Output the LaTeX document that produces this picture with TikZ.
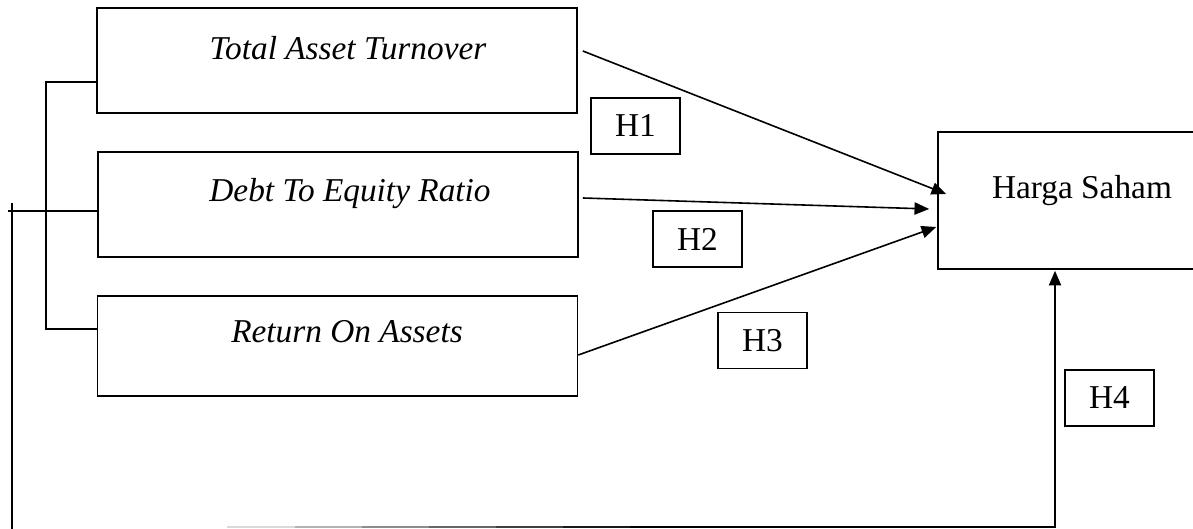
\documentclass[tikz,border=0pt]{standalone}
\usepackage{fontspec}
\setmainfont{Liberation Serif}
\usetikzlibrary{arrows.meta,calc}
\begin{document}
\begin{tikzpicture}[x=0.375pt, y=-0.375pt, line width=0.6pt,
	>={Triangle[length=5.5pt,width=4.6pt]},
	varbox/.style={draw, rectangle, minimum width=180pt, minimum height=39.4pt, inner sep=0pt},
	hipbox/.style={draw, rectangle, minimum width=33.5pt, minimum height=21pt, inner sep=0pt,
		font=\fontsize{12.5}{15}\selectfont},
	varlabel/.style={anchor=base, inner sep=0pt, font=\fontsize{12.5}{15}\selectfont\itshape}]
	
	\clip (0,0) rectangle (1193,529);
	
	% Variabel independen (X1, X2, X3)
	\node[varbox] (tat) at (337,60.5) {};
	\node[varbox] (der) at (338,204.5) {};
	\node[varbox, minimum height=37.5pt] (roa) at (337.5,346) {};
	\node[varlabel] (tat text) at (348,60) {Total Asset Turnover};
	\node[varlabel] (der text) at (350,202) {Debt To Equity Ratio};
	\node[varlabel] (roa text) at (347,343) {Return On Assets};
	
	% Variabel dependen (Y)
	\node[draw, rectangle, minimum width=117pt, minimum height=51.4pt, inner sep=0pt] (harga) at (1094,200.5) {};
	\node[anchor=base, inner sep=0pt, font=\fontsize{12.5}{15}\selectfont] (harga text) at (1082,199) {Harga Saham};
	
	% Kotak hipotesis
	\node[hipbox] (h1) at (635.5,126) {H1};
	\node[hipbox] (h2) at (697.5,239) {H2};
	\node[hipbox] (h3) at (762.5,340.5) {H3};
	\node[hipbox] (h4) at (1109.5,398) {H4};
	
	% Pengaruh parsial X -> Y
	\draw[->] ($(tat.east)+(5,-9.5)$) -- ($(harga.west)+(9,-6.5)$);
	\draw[->] ($(der.east)+(4,-6.5)$) -- ($(harga.west)+(-8,8.5)$);
	\draw[->] ($(roa.east)+(0,9)$) -- ($(harga.west)+(-1,26.5)$);
	
	% Kurung yang menggabungkan X1, X2, X3
	\draw ($(tat.west)+(0,21.5)$) -- (46,82) -- (46,329) -- ($(roa.west)+(0,-17)$);
	
	% Pengaruh simultan (H4)
	\coordinate (kiri) at (8,211);
	\coordinate (kiri bawah) at (12,529);
	\draw (kiri) -- ($(der.west)+(0,6.5)$);
	\draw (12,203) -- (kiri bawah);
	\foreach \xa/\xb/\g in {227/295/15, 295/362/30, 362/429/45, 429/496/60, 496/563/75, 563/630/90} {
		\draw[black!\g] (\xa,527) -- (\xb,527);
	}
	\coordinate (h4 awal) at (630,527);
	\draw[->] (h4 awal) -- (1055,527) -- ($(harga.south)+(-39,1)$);
	
\end{tikzpicture}
\end{document}
